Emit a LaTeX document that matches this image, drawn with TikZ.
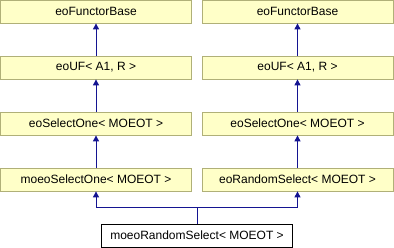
\documentclass[tikz,border=0pt]{standalone}
\usepackage{fontspec}
\setmainfont{Liberation Sans}
\usetikzlibrary{
  arrows.meta,
  positioning
}
\definecolor{boxfill}{RGB}{255,255,200}
\definecolor{boxline}{RGB}{176,176,120}
\definecolor{edgeblue}{RGB}{20,20,145}

\begin{document}
\begin{tikzpicture}[
            x=1pt, y=1pt,
            node distance=56pt,
            font=\fontsize{12}{14}\selectfont,
            classbox/.style={rectangle, minimum width=191pt, minimum height=23pt, inner sep=0pt, text centered, draw=boxline, line width=0.8pt, fill=boxfill},
            thisbox/.style={classbox, draw=black, fill=white},
            arrow/.style={draw=edgeblue, line width=1pt, -{Triangle[length=6pt,width=6pt]}}
        ]
        \useasboundingbox (0,0) rectangle (394,-248);

        % Left branch
        \node (base_l) [classbox] at (96,-11.5) {eoFunctorBase};
        \node (uf_l) [classbox, below of=base_l] {eoUF< A1, R >};
        \node (sel_l) [classbox, below of=uf_l] {eoSelectOne< MOEOT >};
        \node (moeo_sel) [classbox, below of=sel_l] {moeoSelectOne< MOEOT >};

        % Right branch
        \node (base_r) [classbox] at (297.5,-11.5) {eoFunctorBase};
        \node (uf_r) [classbox, below of=base_r] {eoUF< A1, R >};
        \node (sel_r) [classbox, below of=uf_r] {eoSelectOne< MOEOT >};
        \node (rnd_sel) [classbox, below of=sel_r] {eoRandomSelect< MOEOT >};

        % Derived class
        \node (moeo_rnd) [thisbox, below of=moeo_sel, xshift=101pt] {moeoRandomSelect< MOEOT >};
        \coordinate (join) at ([yshift=16pt]moeo_rnd.north);

        % Links
        \draw [arrow] (uf_l) -- (base_l);
        \draw [arrow] (sel_l) -- (uf_l);
        \draw [arrow] (moeo_sel) -- (sel_l);

        \draw [arrow] (uf_r) -- (base_r);
        \draw [arrow] (sel_r) -- (uf_r);
        \draw [arrow] (rnd_sel) -- (sel_r);

        \draw [edgeblue, line width=1pt] (moeo_rnd.north) -- (join);
        \draw [arrow] (join) -| (moeo_sel.south);
        \draw [arrow] (join) -| (rnd_sel.south);

    \end{tikzpicture}
\end{document}
